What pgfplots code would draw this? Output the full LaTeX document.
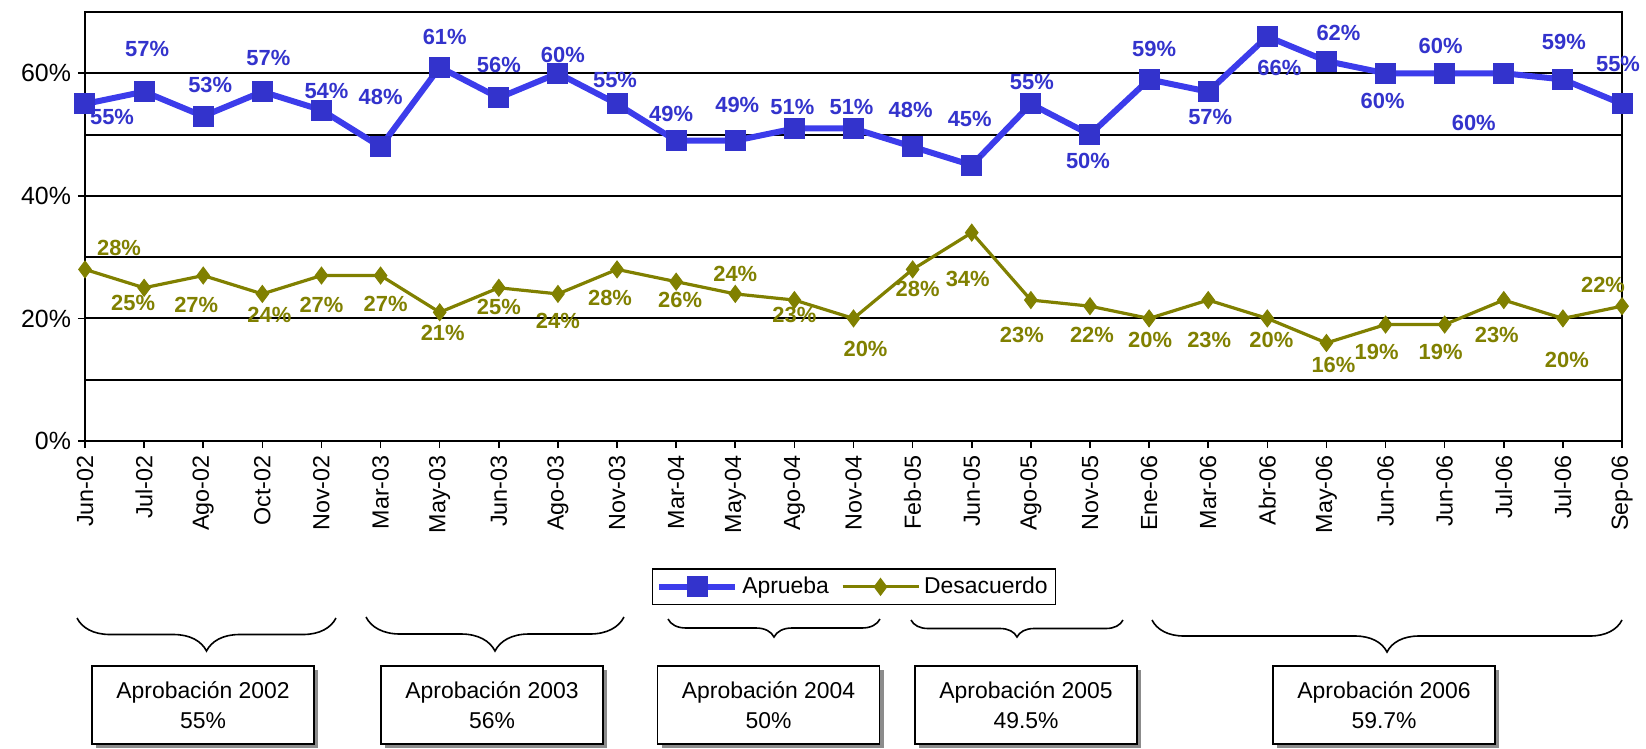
\documentclass[border=0pt]{standalone}
\usepackage{pgfplots}
\pgfplotsset{compat=1.18}
\usepackage{pgfplotstable}
\usepackage{fontspec}
\setmainfont{Liberation Sans}
\usetikzlibrary{decorations.pathreplacing}
\definecolor{aprueba}{RGB}{51,51,204}
\definecolor{aprline}{RGB}{60,60,235}
\definecolor{desac}{RGB}{128,128,0}

\pgfplotstableread{
x y dx dy
0 55 13.5 -6.5
1 57 1.5 21.5
2 53 3.5 15.5
3 57 3 17
4 54 2.5 9.5
5 48 0 25
6 61 2.5 15
7 56 0 16.5
8 60 2.5 9
9 55 -1 12
10 49 -2.5 13.5
11 49 1 18
12 51 -1 10.5
13 51 -1 10.5
14 48 -1 18.5
15 45 -1 23
16 55 0.5 11
17 50 -1 -13
18 59 2.5 15
19 57 1 -12.5
20 66 6 -15.5
21 62 6 14
22 60 -1.5 -14
23 60 -2 13.5
24 60 -15 -25
25 59 0.5 18.5
26 55 -2 20
}\aprtab

\pgfplotstableread{
x y dx dy
0 28 17 10.5
1 25 -5.5 -7.5
2 27 -3.5 -14.5
3 24 3.5 -10.5
4 27 0 -14.5
5 27 2.5 -14
6 21 1.5 -10.5
7 25 0 -9.5
8 24 0 -13.5
9 28 -3.5 -14.5
10 26 2 -9
11 24 0 10
12 23 0 -7.5
13 20 6 -15.5
14 28 2.5 -10
15 34 -2 -23
16 23 -4.5 -17.5
17 22 1 -14.5
18 20 0.5 -11
19 23 0.5 -20
20 20 2 -11
21 16 3.5 -11
22 19 -4.5 -13.5
23 19 -2 -13.5
24 23 -3.5 -17.5
25 20 2 -21
26 22 -9.5 10.5
}\destab

\begin{document}
\begin{tikzpicture}
\begin{scope}[x=1bp,y=1bp]
\path[use as bounding box] (-42.5,-152.5) rectangle (780.5,220.5);
\end{scope}
\begin{axis}[
  at={(0,0)}, anchor=south west,
  width=768.5bp, height=214.5bp, scale only axis,
  xmin=0, xmax=26, ymin=0, ymax=70,
  clip=false,
  axis line style={black, line width=1bp},
  tick pos=left,
  xtick={0,...,26},
  xticklabels={Jun-02,Jul-02,Ago-02,Oct-02,Nov-02,Mar-03,May-03,Jun-03,Ago-03,Nov-03,Mar-04,May-04,Ago-04,Nov-04,Feb-05,Jun-05,Ago-05,Nov-05,Ene-06,Mar-06,Abr-06,May-06,Jun-06,Jun-06,Jul-06,Jul-06,Sep-06},
  xticklabel style={rotate=90, anchor=east, font=\fontsize{11.7}{14}\selectfont, inner sep=3.5bp},
  ytick={0,20,40,60},
  yticklabels={0\%,20\%,40\%,60\%},
  minor ytick={10,30,50},
  yticklabel style={font=\fontsize{12.5}{14}\selectfont},
  ymajorgrids, yminorgrids,
  major grid style={black, line width=1bp},
  minor grid style={black, line width=1bp},
  tick align=outside,
  major tick length=3.5bp,
  minor tick length=0pt,
  tick style={black, line width=0.8bp},
  /pgf/number format/assume math mode=true,
  legend style={at={(0.5003,-0.34)}, anchor=center, draw=black, line width=0.8bp,
    font=\fontsize{11.5}{13}\selectfont, legend columns=2,
    /tikz/every even column/.append style={column sep=4bp}, inner sep=2bp},
  legend image code/.code={%
    \draw[#1, mark=none] (0bp,0bp) -- (38bp,0bp);
    \draw[#1, only marks] plot coordinates {(19bp,0bp)};},
]
\addplot[aprline, line width=3bp, mark=square*, mark size=5bp,
  mark options={fill=aprueba, draw=aprueba, line width=0.5bp},
  nodes near coords={\pgfmathprintnumber[fixed,precision=0]{\pgfplotspointmeta}\%},
  visualization depends on={\thisrow{dx} \as \labdx},
  visualization depends on={\thisrow{dy} \as \labdy},
  every node near coord/.append style={anchor=center, xshift=\labdx bp, yshift=\labdy bp,
    font=\bfseries\fontsize{11}{12}\selectfont, text=aprueba, inner sep=0pt},
] table[x=x,y=y] {\aprtab};
\addlegendentry{Aprueba}
\addplot[desac, line width=1.6bp, mark=diamond*, mark size=4.2bp,
  mark options={fill=desac, draw=desac, line width=0.5bp},
  nodes near coords={\pgfmathprintnumber[fixed,precision=0]{\pgfplotspointmeta}\%},
  visualization depends on={\thisrow{dx} \as \labdx},
  visualization depends on={\thisrow{dy} \as \labdy},
  every node near coord/.append style={anchor=center, xshift=\labdx bp, yshift=\labdy bp,
    font=\bfseries\fontsize{11}{12}\selectfont, text=desac, inner sep=0pt},
] table[x=x,y=y] {\destab};
\addlegendentry{Desacuerdo}
\end{axis}
\begin{scope}[x=1bp,y=1bp]
\tikzset{br/.style={decorate, line width=0.8bp, decoration={brace, mirror, amplitude=#1}}}
\draw[br=16.5bp] (-4,-88.5) -- (125.5,-88.5);
\draw[br=17bp] (140.5,-88) -- (269.5,-88);
\draw[br=9bp] (291.5,-89) -- (397.5,-89);
\draw[br=8.5bp] (413,-89.5) -- (519,-89.5);
\draw[br=16bp] (533.5,-89.5) -- (768.5,-89.5);
\foreach \cx/\yr/\val in {59/2002/55\%, 203.5/2003/56\%, 341.75/2004/50\%, 470.5/2005/49.5\%, 649.5/2006/59.7\%}{
  \fill[black!45] (\cx-55.5+2.2,-112.5-2.2) rectangle (\cx+55.5+2.2,-151.5-2.2);
  \draw[fill=white, line width=0.8bp] (\cx-55.5,-112.5) rectangle (\cx+55.5,-151.5);
  \node[align=center, font=\fontsize{11.5}{15}\selectfont] at (\cx,-132) {Aprobación \yr\\ \val};
}
\end{scope}
\end{tikzpicture}
\end{document}
